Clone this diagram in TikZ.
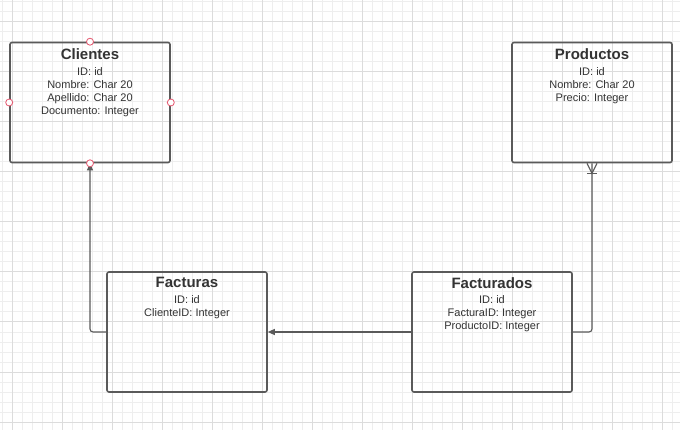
\documentclass[tikz,border=0pt]{standalone}
\usepackage{fontspec}
\setmainfont{Liberation Sans}
\usetikzlibrary{positioning, arrows.meta}
\definecolor{gridminor}{HTML}{EEEEEE}
\definecolor{gridmajor}{HTML}{DCDCDC}
\definecolor{edge}{HTML}{5A5A5A}
\definecolor{txt}{HTML}{333333}
\definecolor{pinred}{HTML}{E5566E}

\begin{document}
\begin{tikzpicture}[x=1pt, y=-1pt,
        table/.style={rectangle, draw=edge, line width=1.6pt, rounded corners=2pt, minimum width=160pt, minimum height=120pt, inner sep=0pt},
        fields/.style={anchor=north, align=center, inner sep=0pt, text=txt, font=\fontsize{11}{13}\selectfont},
        conn/.style={draw=edge, line width=1.1pt, rounded corners=3pt},
        arrow/.style={conn, -{Triangle[length=7pt, width=6pt]}},
        pin/.style={circle, draw=pinred, fill=white, line width=0.8pt, minimum size=7pt, inner sep=0pt}
    ]
        % Background grid
        \fill[white] (0,0) rectangle (680,430);
        \useasboundingbox (0,0) rectangle (680,430);
        \foreach \x in {2,12,...,672} \draw[gridminor, line width=1pt] (\x,0) -- (\x,430);
        \foreach \y in {2,12,...,422} \draw[gridminor, line width=1pt] (0,\y) -- (680,\y);
        \foreach \x in {12,62,...,662} \draw[gridmajor, line width=1pt] (\x,0) -- (\x,430);
        \foreach \y in {22,72,...,422} \draw[gridmajor, line width=1pt] (0,\y) -- (680,\y);
        % Tables
        \node[table] (cli) at (90,102.5) {};
        \node[table] (prod) at (592,102.5) {};
        \node[table] (fac) at (187,332) {};
        \node[table] (fdo) at (492,332) {};
        % Fields
        \node[fields, below=7pt of cli.north] (cli-text) {{\fontsize{15}{18}\selectfont\bfseries Clientes}\\[2.3pt]ID: id\\Nombre: Char 20\\Apellido: Char 20\\Documento: Integer};
        \node[fields, below=7pt of prod.north] (prod-text) {{\fontsize{15}{18}\selectfont\bfseries Productos}\\[2.3pt]ID: id\\Nombre: Char 20\\Precio: Integer};
        \node[fields, below=6pt of fac.north] (fac-text) {{\fontsize{15}{18}\selectfont\bfseries Facturas}\\[2.3pt]ID: id\\ClienteID: Integer};
        \node[fields, below=6pt of fdo.north] (fdo-text) {{\fontsize{15}{18}\selectfont\bfseries Facturados}\\[2.3pt]ID: id\\FacturaID: Integer\\ProductoID: Integer};
        % Relations
        \draw[arrow] (fac.west) -| (cli.south);
        \draw[arrow] (fdo.west) -- (fac.east);
        \draw[conn] (fdo.east) -| (prod.south);
        \draw[conn, sharp corners] ([xshift=-5pt]prod.south) -- ([yshift=-10pt]prod.south) -- ([xshift=5pt]prod.south);
        \draw[conn] ([xshift=-5pt, yshift=-10pt]prod.south) -- ([xshift=5pt, yshift=-10pt]prod.south);
        % Connection points
        \foreach \a in {north, south, east, west} \node[pin] (cli-\a) at (cli.\a) {};
    \end{tikzpicture}
\end{document}
